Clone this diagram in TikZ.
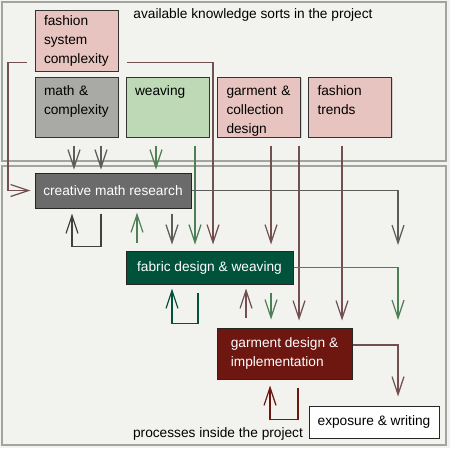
\documentclass[tikz,border=0pt]{standalone}
\usepackage{fontspec}
\setmainfont{Liberation Sans}
\usetikzlibrary{arrows.meta,shadows}

\definecolor{bgcol}{HTML}{F2F2EE}
\definecolor{framecol}{HTML}{A3A39F}
\definecolor{pinkbox}{HTML}{E8C4C0}
\definecolor{graybox}{HTML}{A9A9A5}
\definecolor{greenbox}{HTML}{BDD9B5}
\definecolor{mathcol}{HTML}{6B6B6B}
\definecolor{fabriccol}{HTML}{00533A}
\definecolor{garmcol}{HTML}{6E1610}
\definecolor{lgray}{HTML}{5C5C5C}
\definecolor{lpink}{HTML}{735050}
\definecolor{lgreen}{HTML}{4F7F54}

\tikzset{
  know/.style={draw=black!80, line width=1pt, text width=65pt, inner xsep=9pt,
    inner ysep=0pt, text height=18pt, text depth=42pt, align=left,
    drop shadow={shadow xshift=1pt, shadow yshift=-1pt, opacity=.3}},
  proc/.style={draw=black!85, line width=1pt, text=white, inner sep=0pt, align=left,
    drop shadow={shadow xshift=1pt, shadow yshift=-1pt, opacity=.3}},
  link/.style={line width=1.2pt, -{Straight Barb[length=18pt,width=12pt]}},
  frame/.style={draw=framecol, line width=1.8pt},
}

\begin{document}
\begin{tikzpicture}[x=1pt, y=-1pt, font=\fontsize{13.7}{19}\selectfont]

\fill[bgcol] (0,0) rectangle (450,448);
\useasboundingbox (0,0) rectangle (450,448);

% the two areas
\draw[frame] (2,2) rectangle (446,161);
\draw[frame] (2,166) rectangle (446,445);

\node[anchor=base] (ktitle) at (253,18) {available knowledge sorts in the project};
\node[anchor=base] (ptitle) at (218,437) {processes inside the project};

% knowledge sorts
\node[know, fill=pinkbox, text height=15pt, text depth=46pt] (fsc) at (76.5,40.5) {fashion\\system\\complexity};
\node[know, fill=graybox] (mc) at (76.5,107) {math \&\\complexity};
\node[know, fill=greenbox] (weav) at (167.5,107) {weaving};
\node[know, fill=pinkbox] (gcd) at (259,107) {garment \&\\collection\\design};
\node[know, fill=pinkbox] (ft) at (350,107) {fashion\\trends};

% processes
\node[proc, fill=mathcol, minimum width=156pt, minimum height=35pt] (cmr) at (113,190.5) {creative math research};
\node[proc, fill=fabriccol, minimum width=167pt, minimum height=33pt] (fdw) at (209.5,267.5) {fabric design \& weaving};
\node[proc, fill=garmcol, minimum width=135pt, minimum height=51pt] (gdi) at (284.5,353.5) {garment design \&\\implementation};
\node[proc, fill=white, text=black, minimum width=130pt, minimum height=32pt] (exw) at (374,422) {exposure \& writing};

\coordinate (fscL) at ([xshift=-8pt,yshift=9pt]fsc.south west);
\coordinate (fscR) at ([xshift=8pt,yshift=9pt]fsc.south east);
\coordinate (cmrEnd) at (398,245);
\coordinate (fdwEnd) at (398,320);

% from the knowledge sorts
\draw[link, lpink, shorten >=4pt] (fscL) -| (8,0 |- cmr.west) -- (cmr.west);
\draw[link, lpink, shorten >=6pt] (fscR) -| (213,0 |- fdw.north);
\draw[link, lgray, shorten <=8pt, shorten >=3pt] (74,0 |- mc.south) -- (74,0 |- cmr.north);
\draw[link, lgray, shorten <=8pt, shorten >=3pt] (101,0 |- mc.south) -- (101,0 |- cmr.north);
\draw[link, lgreen, shorten <=8pt, shorten >=3pt] (156,0 |- weav.south) -- (156,0 |- cmr.north);
\draw[link, lgreen, shorten <=8pt, shorten >=6pt] (195,0 |- weav.south) -- (195,0 |- fdw.north);
\draw[link, lpink, shorten <=8pt, shorten >=6pt] (271,0 |- gcd.south) -- (271,0 |- fdw.north);
\draw[link, lpink, shorten <=8pt, shorten >=7pt] (299,0 |- gcd.south) -- (299,0 |- gdi.north);
\draw[link, lpink, shorten <=8pt, shorten >=7pt] (342,0 |- ft.south) -- (342,0 |- gdi.north);

% creative math research
\draw[link, lgray] (cmr.east) -| (cmrEnd);
\draw[link, black!75, shorten <=5pt, shorten >=5pt] (cmr.south -| 101,0) -- ++(0,38) -| (cmr.south -| 72,0);
\draw[link, lgreen, shorten <=8pt, shorten >=4pt] (fdw.north -| 137,0) -- (cmr.south -| 137,0);
\draw[link, lgray, shorten <=5pt, shorten >=6pt] (cmr.south -| 172,0) -- (fdw.north -| 172,0);

% fabric design & weaving
\draw[link, lgreen] (fdw.east) -| (fdwEnd);
\draw[link, fabriccol, shorten <=8pt, shorten >=4pt] (fdw.south -| 198,0) -- ++(0,39) -| (fdw.south -| 172,0);
\draw[link, lpink, shorten <=10pt, shorten >=4pt] (gdi.north -| 246,0) -- (fdw.south -| 246,0);
\draw[link, lgreen, shorten <=8pt, shorten >=8pt] (fdw.south -| 271,0) -- (gdi.north -| 271,0);

% garment design & implementation
\draw[link, garmcol, shorten <=8pt, shorten >=6pt] (gdi.south -| 298,0) -- ++(0,40) -| (gdi.south -| 270,0);
\draw[link, lpink, shorten >=9pt] ([yshift=8.5pt]gdi.east) -| (exw.north -| 398,0);

\end{tikzpicture}
\end{document}
